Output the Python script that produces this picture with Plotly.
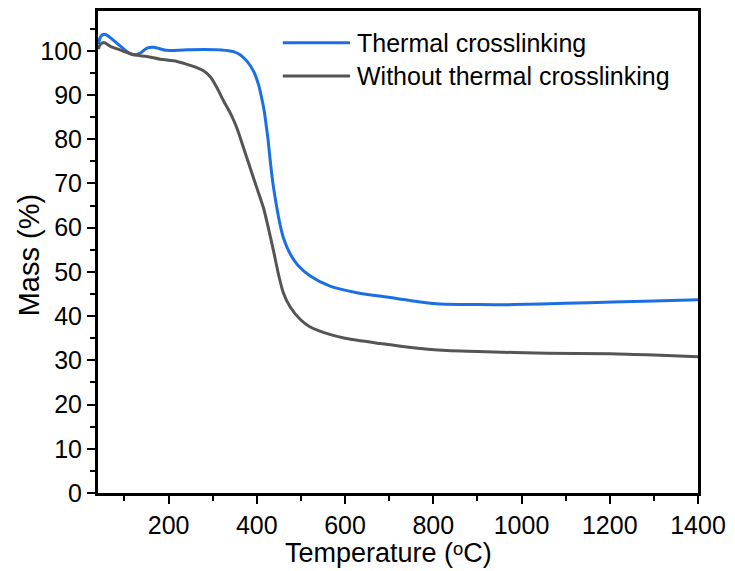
import plotly.graph_objects as go

# Thermal crosslinking
t_blue = [41, 45, 50, 57, 70, 83, 95, 106, 121, 136, 151, 166, 196, 234, 280, 320, 347, 362,
          378, 393, 404, 411, 417, 421, 425, 429, 433, 438, 444, 451, 460, 476, 494, 521, 566,
          627, 702, 750, 808, 900, 981, 1100, 1207, 1300, 1400]
m_blue = [101.5, 103.0, 103.6, 103.7, 102.8, 101.7, 100.7, 99.8, 99.1, 99.5, 100.6, 100.8, 100.1,
          100.2, 100.3, 100.2, 99.8, 99.1, 97.6, 95.3, 92.3, 89.3, 86.3, 83.3, 80.3, 76.5, 72.8,
          69.0, 65.3, 61.5, 57.8, 54.0, 51.4, 49.1, 46.8, 45.3, 44.2, 43.5, 42.8, 42.6, 42.6,
          42.9, 43.2, 43.4, 43.7]

# Without thermal crosslinking
t_gray = [41, 45, 53, 68, 90, 121, 151, 181, 219, 249, 279, 294, 310, 325, 340, 355, 370, 385,
          400, 415, 426, 438, 449, 460, 476, 498, 520, 567, 600, 680, 740, 831, 900, 1058, 1200,
          1300, 1400]
m_gray = [100.4, 101.4, 101.9, 101.0, 100.2, 99.1, 98.7, 98.1, 97.6, 96.7, 95.5, 94.2, 91.6,
          88.6, 85.9, 82.5, 78.0, 73.5, 69.0, 64.5, 60.0, 54.7, 49.5, 45.3, 42.0, 39.3, 37.6,
          35.8, 35.0, 33.8, 33.0, 32.2, 32.0, 31.6, 31.5, 31.2, 30.8]

series_names = ["Thermal crosslinking", "Without thermal crosslinking"]
series_colors = ["#1b6fe4", "#555555"]
x_ticks = [200, 400, 600, 800, 1000, 1200, 1400]
y_ticks = list(range(0, 101, 10))
x_title = "Temperature (\u1d52C)"
y_title = "Mass (%)"

FONT = "Liberation Sans, Arial, DejaVu Sans, sans-serif"

fig = go.Figure()
fig.add_trace(go.Scatter(x=t_blue, y=m_blue, mode="lines", name=series_names[0], showlegend=False,
                         line=dict(color=series_colors[0], width=3, shape="spline", smoothing=0.8)))
fig.add_trace(go.Scatter(x=t_gray, y=m_gray, mode="lines", name=series_names[1], showlegend=False,
                         line=dict(color=series_colors[1], width=3, shape="spline", smoothing=0.8)))

axis_common = dict(showline=True, linecolor="black", linewidth=3, mirror=True,
                   ticks="outside", ticklen=8, tickwidth=2, tickcolor="black",
                   showgrid=False, zeroline=False,
                   tickfont=dict(family=FONT, size=25, color="black"))

# manual legend (long line samples like the reference)
leg_y = [0.934, 0.865]
for name, col, yy in zip(series_names, series_colors, leg_y):
    fig.add_shape(type="line", xref="paper", yref="paper", x0=0.308, x1=0.420, y0=yy, y1=yy,
                  line=dict(color=col, width=3))
    fig.add_annotation(xref="paper", yref="paper", x=0.429, y=yy, text=name, showarrow=False,
                       xanchor="left", yanchor="middle",
                       font=dict(family=FONT, size=25, color="black"))

# axis titles placed as in the reference
fig.add_annotation(xref="paper", yref="paper", x=0.308, y=-0.16, text=x_title, showarrow=False,
                   xanchor="left", yanchor="bottom", font=dict(family=FONT, size=27, color="black"))
fig.add_annotation(xref="paper", yref="paper", x=-0.115, y=0.493, text=y_title, showarrow=False,
                   textangle=-90, xanchor="center", yanchor="middle",
                   font=dict(family=FONT, size=29, color="black"))

fig.update_layout(
    width=735, height=571,
    margin=dict(l=98, r=37, t=8, b=78),
    paper_bgcolor="white", plot_bgcolor="white",
    font=dict(family=FONT, color="black"),
    showlegend=False,
    xaxis=dict(range=[40, 1400], tickvals=x_ticks,
               minor=dict(dtick=100, tick0=0, ticks="outside", ticklen=5, tickwidth=2, tickcolor="black"),
               **axis_common),
    yaxis=dict(range=[0, 109], tickvals=y_ticks,
               minor=dict(dtick=5, tick0=0, ticks="outside", ticklen=5, tickwidth=2, tickcolor="black"),
               **axis_common),
)

fig.write_html("out.html")
